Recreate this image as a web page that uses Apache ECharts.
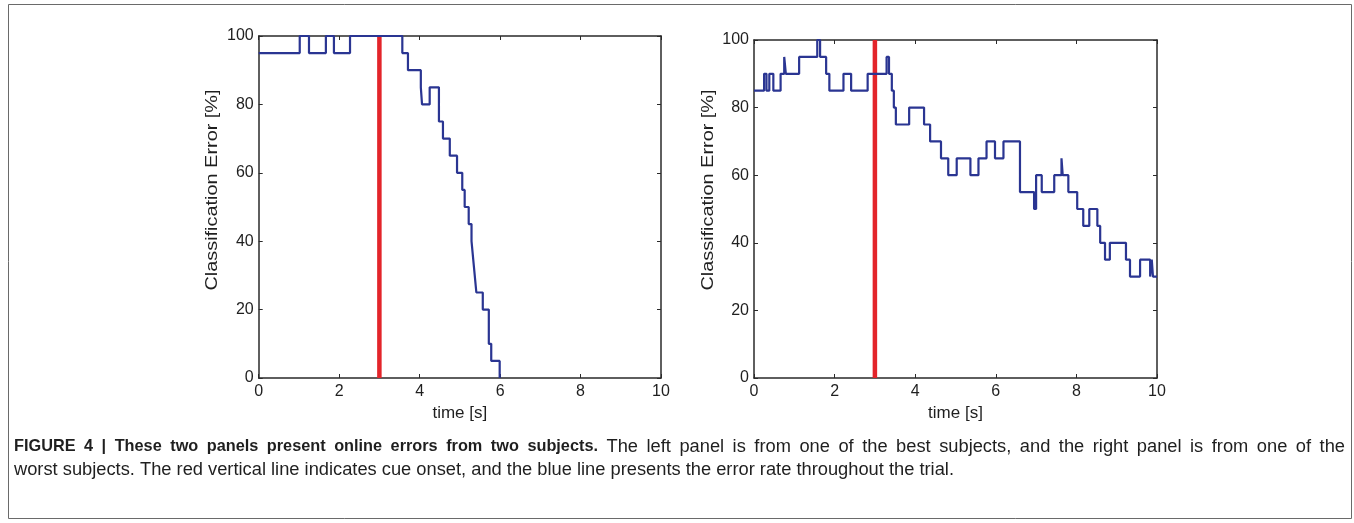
<!DOCTYPE html>
<html>
<head>
<meta charset="utf-8">
<script src="https://cdn.jsdelivr.net/npm/echarts@6/dist/echarts.min.js"></script>
<style>
html,body{margin:0;padding:0;background:#fff;}
#chart{width:1354px;height:523px;}
</style>
</head>
<body>
<div id="chart"></div>
<script>
// ---- data ----
const xTicks = [0, 2, 4, 6, 8, 10];
const yTicks = [0, 20, 40, 60, 80, 100];
const cueOnset = 3; // seconds

// left panel (best subject): step change times [s] and error values [%]
const leftTimes = [0, 1.02, 1.25, 1.67, 1.87, 2.27, 3.57, 3.71, 4.03, 4.06, 4.25, 4.48, 4.58, 4.75, 4.93, 5.06, 5.12, 5.22, 5.29, 5.33, 5.37, 5.41, 5.57, 5.72, 5.78, 5.99, 6.0];
const leftError = [95, 100, 95, 100, 95, 100, 95, 90, 85, 80, 85, 75, 70, 65, 60, 55, 50, 45, 40, 35, 30, 25, 20, 10, 5, 0, 0];

// right panel (worst subject)
const rightTimes = [0, 0.25, 0.31, 0.38, 0.48, 0.66, 0.75, 0.79, 1.12, 1.57, 1.64, 1.79, 1.87, 2.22, 2.41, 2.82, 3.29, 3.35, 3.42, 3.47, 3.52, 3.85, 4.22, 4.37, 4.64, 4.82, 5.03, 5.37, 5.57, 5.77, 5.98, 6.19, 6.6, 6.95, 7.0, 7.14, 7.45, 7.63, 7.66, 7.8, 8.02, 8.17, 8.32, 8.52, 8.59, 8.71, 8.83, 9.23, 9.33, 9.58, 9.83, 9.87, 9.9, 10];
const rightError = [85, 90, 85, 90, 85, 90, 95, 90, 95, 100, 95, 90, 85, 90, 85, 90, 95, 90, 85, 80, 75, 80, 75, 70, 65, 60, 65, 60, 65, 70, 65, 70, 55, 50, 60, 55, 60, 65, 60, 55, 50, 45, 50, 45, 40, 35, 40, 35, 30, 35, 30, 35, 30, 30];

const xLabel = 'time [s]';
const yLabel = 'Classification Error [%]';
const captionBold = 'FIGURE 4 | These two panels present online errors from two subjects.';
const captionRest1 = 'The left panel is from one of the best subjects, and the right panel is from one of the';
const captionLine2 = 'worst subjects. The red vertical line indicates cue onset, and the blue line presents the error rate throughout the trial.';

// ---- chart ----
const zip = (a, b) => a.map((v, i) => [v, b[i]]);
const FONT = '"Liberation Sans", Arial, sans-serif';
const axisCol = '#2a2a2a';
const txtCol = '#1f1f1f';

const grids = [
  {left: 258.7, top: 36, width: 402.3, height: 342},
  {left: 754, top: 40, width: 403, height: 338}
];

const xAxes = [], yAxes = [];
grids.forEach((g, gi) => {
  xAxes.push({
    type: 'value', gridIndex: gi, min: 0, max: 10, interval: 2, position: 'bottom',
    name: xLabel, nameLocation: 'middle', nameGap: 23,
    nameTextStyle: {fontFamily: FONT, fontSize: 17, color: txtCol},
    axisLine: {show: true, onZero: false, lineStyle: {color: axisCol, width: 1.5}},
    axisTick: {show: true, inside: true, length: 4, lineStyle: {color: axisCol}},
    axisLabel: {fontFamily: FONT, fontSize: 16, color: txtCol, margin: 6},
    splitLine: {show: false}
  });
  xAxes.push({
    type: 'value', gridIndex: gi, min: 0, max: 10, interval: 2, position: 'top',
    axisLine: {show: true, onZero: false, lineStyle: {color: axisCol, width: 1.5}},
    axisTick: {show: true, inside: true, length: 4, lineStyle: {color: axisCol}},
    axisLabel: {show: false}, splitLine: {show: false}
  });
  yAxes.push({
    type: 'value', gridIndex: gi, min: 0, max: 100, interval: 20, position: 'left',
    axisLine: {show: true, onZero: false, lineStyle: {color: axisCol, width: 1.5}},
    axisTick: {show: true, inside: true, length: 4, lineStyle: {color: axisCol}},
    axisLabel: {fontFamily: FONT, fontSize: 16, color: txtCol, margin: 5},
    splitLine: {show: false}
  });
  yAxes.push({
    type: 'value', gridIndex: gi, min: 0, max: 100, interval: 20, position: 'right',
    axisLine: {show: true, onZero: false, lineStyle: {color: axisCol, width: 1.5}},
    axisTick: {show: true, inside: true, length: 4, lineStyle: {color: axisCol}},
    axisLabel: {show: false}, splitLine: {show: false}
  });
});

const blue = '#2a3592';
const red = '#e3242a';
const series = [];
[[leftTimes, leftError], [rightTimes, rightError]].forEach((d, gi) => {
  series.push({
    type: 'line', xAxisIndex: gi * 2, yAxisIndex: gi * 2,
    data: [[cueOnset, 0], [cueOnset, 100]],
    symbol: 'none', silent: true, animation: false, z: 3,
    lineStyle: {color: red, width: 4.5}
  });
  series.push({
    type: 'line', xAxisIndex: gi * 2, yAxisIndex: gi * 2,
    data: zip(d[0], d[1]), step: 'end',
    symbol: 'none', silent: true, animation: false, z: 4,
    lineStyle: {color: blue, width: 2.2}
  });
});

// ---- caption layout (justified first line) ----
const BOLD_FONT = 'bold 16.3px "Liberation Sans", Arial, sans-serif';
const NORM_FONT = '18.3px "Liberation Sans", Arial, sans-serif';
const mctx = document.createElement('canvas').getContext('2d');
const words = [];
captionBold.split(' ').forEach(w => words.push({w, font: BOLD_FONT}));
captionRest1.split(' ').forEach(w => words.push({w, font: NORM_FONT}));
let sumW = 0;
words.forEach(o => { mctx.font = o.font; o.width = mctx.measureText(o.w).width; sumW += o.width; });
const lineLeft = 14, lineRight = 1345;
const gap = (lineRight - lineLeft - sumW) / (words.length - 1);
const graphics = [
  {type: 'rect', left: 6, top: 2, silent: true,
   shape: {width: 1343, height: 514},
   style: {fill: 'none', stroke: '#6a6a6a', lineWidth: 1}}
];
let cx = lineLeft;
words.forEach(o => {
  graphics.push({type: 'text', x: cx, y: 447, silent: true,
    style: {text: o.w, font: o.font, fill: txtCol, textVerticalAlign: 'middle', verticalAlign: 'middle'}});
  cx += o.width + gap;
});
graphics.push({type: 'text', x: lineLeft, y: 470, silent: true,
  style: {text: captionLine2, font: NORM_FONT, fill: txtCol, textVerticalAlign: 'middle', verticalAlign: 'middle'}});

// y-axis titles (slightly stretched along their length as in the source figure)
grids.forEach(g => {
  graphics.push({type: 'text', x: g.left - 46, y: 190, rotation: Math.PI / 2, scaleX: 1.17, silent: true,
    style: {text: yLabel, font: '17px "Liberation Sans", Arial, sans-serif', fill: txtCol,
            align: 'center', verticalAlign: 'middle', textAlign: 'center', textVerticalAlign: 'middle'}});
});

const chart = echarts.init(document.getElementById('chart'), null, {renderer: 'canvas'});
chart.setOption({
  backgroundColor: '#fff',
  animation: false,
  grid: grids,
  xAxis: xAxes,
  yAxis: yAxes,
  series: series,
  graphic: graphics
});
</script>
</body>
</html>
